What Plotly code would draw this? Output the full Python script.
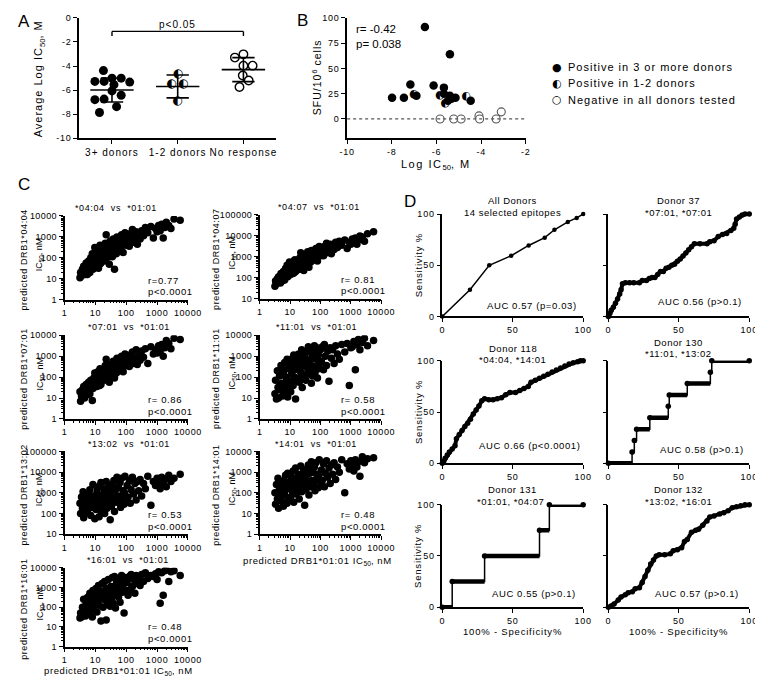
import plotly.graph_objects as go

W, H = 763, 680
FONT = "Liberation Sans, Arial, Helvetica, sans-serif"
SYM = "DejaVu Sans"
HALF = "\u25D0"


def sp(text, px):
    return '<span style="letter-spacing:%spx">%s</span>' % (px, text)


# ---------------- Panel A data ----------------
A_CATEGORIES = ["3+ donors", "1-2 donors", "No response"]
A_3PLUS_Y = [-4.38, -5.28, -5.28, -5.01, -5.01, -5.34, -5.55, -6.07, -6.43, -6.75, -6.80, -7.38, -7.87]
A_3PLUS_JITTER = [-0.13, -0.26, -0.12, 0.0, 0.14, 0.27, 0.03, 0.0, 0.14, -0.12, -0.26, 0.07, -0.19]
A_12_Y = [-4.66, -5.48, -5.48, -6.92]
A_12_JITTER = [0.01, -0.09, 0.09, 0.0]
A_NONE_Y = [-3.03, -3.30, -3.97, -3.97, -4.79, -5.20, -5.75]
A_NONE_JITTER = [0.0, -0.13, 0.0, 0.14, -0.01, 0.08, -0.06]
A_MEAN = [-6.0, -5.7, -4.3]
A_SD = [1.0, 0.95, 1.0]
A_PTEXT = "p<0.05"

# ---------------- Panel B data ----------------
B_POS_X = [-6.52, -5.40, -7.17, -6.13, -7.99, -7.46, -6.90, -5.67, -5.67, -5.40, -5.33, -5.15, -5.49, -4.47]
B_POS_Y = [91, 64, 34, 33, 21, 21, 23, 31, 25, 23, 20, 21, 18, 18]
B_ONE_X = [-7.02, -4.68, -5.85, -5.62]
B_ONE_Y = [24, 22, 23, 16]
B_NEG_X = [-5.84, -5.23, -4.90, -4.10, -4.07, -3.33, -3.10]
B_NEG_Y = [0, 0, 0, 3, 0, 0, 7]
B_STATS = "r= -0.42<br>p= 0.038"
B_LEGEND = ["Positive in 3 or more donors", "Positive in 1-2 donors", "Negative in all donors tested"]

# ---------------- Panel C data (log10 IC50, nM) ----------------
C_X_LOG = [
    0.50, 0.52, 0.55, 0.58, 0.60, 0.62, 0.65, 0.68, 0.70, 0.72,
    0.75, 0.78, 0.80, 0.82, 0.85, 0.88, 0.90, 0.92, 0.95, 0.98,
    1.00, 1.02, 1.05, 1.08, 1.10, 1.12, 1.15, 1.18, 1.20, 1.22,
    1.25, 1.28, 1.30, 1.32, 1.35, 1.38, 1.40, 1.42, 1.45, 1.48,
    1.50, 1.52, 1.55, 1.58, 1.60, 1.62, 1.65, 1.68, 1.70, 1.72,
    1.75, 1.78, 1.80, 1.82, 1.85, 1.88, 1.90, 1.93, 1.96, 2.00,
    2.03, 2.06, 2.10, 2.13, 2.16, 2.20, 2.24, 2.28, 2.32, 2.36,
    2.40, 2.45, 2.50, 2.56, 2.62, 2.70, 2.80, 2.88, 2.95, 3.00,
    3.05, 3.10, 3.15, 3.20, 3.25, 3.30, 3.38, 3.45, 3.55, 3.75,
    0.66, 0.74, 0.86, 0.94, 1.04, 1.14, 1.24, 1.34, 1.44, 1.54,
    1.64, 1.74, 1.84, 1.94, 1.06, 1.16, 1.26, 1.36, 1.46, 1.56]

C_Y_0404 = [
    1.05, 1.30, 1.15, 1.45, 1.25, 1.60, 1.35, 1.20, 1.75, 1.50,
    1.40, 1.85, 1.55, 1.30, 2.00, 1.70, 2.20, 1.45, 1.90, 2.50,
    1.60, 2.10, 1.80, 2.35, 1.50, 2.00, 2.60, 1.75, 2.25, 1.95,
    2.40, 1.85, 2.15, 2.70, 3.10, 2.00, 2.50, 2.25, 1.70, 2.80,
    2.30, 2.55, 2.05, 2.90, 2.40, 1.45, 2.70, 2.20, 3.00, 2.55,
    2.65, 2.35, 2.90, 2.50, 3.10, 2.70, 2.25, 2.95, 3.20, 2.60,
    2.80, 3.05, 2.55, 3.15, 2.90, 3.35, 2.75, 3.00, 3.25, 2.65,
    3.10, 2.90, 3.30, 3.05, 3.45, 3.20, 3.50, 2.95, 3.40, 3.25,
    3.55, 3.30, 3.60, 2.95, 3.45, 3.70, 3.55, 3.40, 3.85, 3.80,
    1.55, 1.20, 1.65, 2.05, 2.30, 1.70, 2.05, 2.35, 2.60, 2.10,
    2.45, 2.80, 2.55, 2.85, 1.95, 2.40, 1.90, 2.55, 2.20, 2.75]
C_Y_0407 = [
    1.60, 1.85, 1.70, 1.95, 1.80, 2.05, 1.90, 1.75, 2.20, 2.00,
    1.95, 2.30, 2.10, 1.90, 2.45, 2.20, 2.60, 2.05, 2.40, 2.75,
    2.15, 2.55, 2.35, 2.70, 2.20, 2.50, 2.85, 2.30, 2.65, 2.45,
    2.75, 2.40, 2.60, 2.95, 3.20, 2.55, 2.85, 2.70, 2.35, 3.05,
    2.80, 3.00, 2.65, 3.25, 2.90, 2.50, 3.10, 2.75, 3.30, 3.00,
    3.05, 2.85, 3.25, 2.95, 3.40, 3.10, 2.80, 3.30, 3.50, 3.05,
    3.20, 3.45, 3.05, 3.50, 3.30, 3.65, 3.20, 3.40, 3.60, 3.15,
    3.50, 3.35, 3.70, 3.45, 3.75, 3.55, 3.80, 3.40, 3.70, 3.60,
    3.85, 3.70, 3.90, 3.60, 3.80, 4.00, 3.95, 3.75, 4.10, 4.20,
    2.05, 1.85, 2.25, 2.50, 2.60, 2.25, 2.50, 2.80, 3.00, 2.65,
    2.90, 3.15, 3.00, 3.25, 2.45, 2.85, 2.40, 2.90, 2.70, 3.15]
C_Y_0701 = [
    1.30, 0.85, 1.10, 1.40, 1.20, 1.55, 1.00, 1.35, 1.65, 1.25,
    1.50, 1.75, 1.35, 1.20, 1.85, 1.60, 0.88, 1.45, 1.95, 2.20,
    1.70, 2.00, 1.55, 2.25, 1.80, 1.95, 2.40, 1.65, 2.15, 1.90,
    2.30, 1.85, 2.05, 2.55, 2.85, 2.00, 2.40, 2.20, 1.75, 2.60,
    2.25, 2.45, 2.05, 2.75, 2.35, 1.95, 2.60, 2.20, 2.90, 2.50,
    2.55, 2.30, 2.80, 2.45, 3.00, 2.65, 2.25, 2.85, 3.10, 2.55,
    2.70, 2.95, 2.50, 3.05, 2.80, 3.20, 2.65, 2.90, 3.30, 2.60,
    3.00, 2.80, 3.25, 2.95, 3.35, 2.65, 3.45, 3.10, 3.30, 3.15,
    3.50, 3.20, 3.55, 3.00, 3.40, 3.75, 3.60, 3.35, 3.85, 3.80,
    1.45, 1.15, 1.70, 1.90, 2.10, 1.60, 2.00, 2.30, 2.50, 2.15,
    2.40, 2.70, 2.50, 2.75, 1.85, 2.35, 1.95, 2.45, 2.25, 2.65]
C_Y_1101 = [
    1.20, 1.85, 0.95, 2.30, 1.50, 1.00, 2.05, 1.40, 2.55, 1.70,
    1.10, 2.20, 1.65, 2.70, 1.35, 1.95, 2.85, 1.05, 2.40, 1.80,
    2.60, 1.30, 2.15, 2.90, 1.60, 3.05, 2.35, 0.95, 2.75, 1.90,
    2.45, 3.10, 1.75, 2.80, 2.25, 3.30, 1.50, 2.65, 3.00, 2.10,
    2.90, 1.85, 3.20, 2.40, 3.45, 2.15, 2.70, 3.35, 1.70, 2.95,
    3.15, 2.50, 3.50, 2.20, 2.85, 3.40, 1.95, 3.05, 2.60, 3.30,
    2.75, 3.45, 2.35, 3.55, 3.00, 2.55, 3.25, 1.80, 3.40, 2.90,
    3.30, 2.65, 3.50, 3.10, 2.85, 3.55, 3.20, 3.60, 1.60, 3.40,
    3.45, 3.70, 2.35, 3.55, 3.80, 3.30, 3.65, 3.85, 3.50, 3.75,
    1.60, 2.45, 2.00, 1.55, 2.55, 2.00, 2.70, 1.95, 2.55, 2.80,
    2.30, 2.05, 3.10, 2.40, 1.75, 2.45, 2.95, 2.20, 2.90, 2.60]
C_Y_1302 = [
    2.50, 2.00, 2.80, 2.25, 3.05, 1.80, 2.60, 2.15, 2.90, 2.35,
    2.05, 2.70, 2.40, 3.15, 1.90, 2.85, 2.30, 3.40, 2.55, 1.75,
    2.75, 2.20, 3.00, 2.45, 3.30, 1.85, 2.65, 3.50, 2.10, 2.90,
    2.40, 3.20, 2.00, 2.80, 3.55, 2.25, 3.05, 2.60, 3.35, 1.70,
    2.95, 2.35, 3.40, 2.70, 3.60, 2.10, 3.15, 2.55, 3.75, 2.85,
    3.25, 2.60, 3.50, 2.30, 3.70, 2.90, 3.10, 2.45, 3.80, 2.75,
    3.35, 2.80, 3.60, 2.50, 3.15, 3.75, 2.95, 3.45, 2.65, 3.55,
    3.10, 3.65, 2.85, 3.45, 3.20, 3.80, 2.40, 3.55, 3.35, 3.70,
    3.50, 3.20, 3.75, 3.40, 3.65, 3.30, 3.85, 3.55, 3.70, 3.90,
    2.20, 2.95, 2.60, 2.35, 2.85, 2.50, 2.75, 3.00, 2.90, 3.10,
    2.65, 3.30, 2.70, 3.00, 3.20, 2.40, 2.95, 2.55, 2.65, 3.20]
C_Y_1401 = [
    2.00, 1.45, 2.40, 1.70, 2.70, 1.25, 2.20, 1.85, 2.55, 1.60,
    2.10, 1.35, 2.60, 1.90, 2.85, 2.30, 1.50, 2.95, 1.75, 2.45,
    2.35, 1.80, 2.75, 2.05, 3.05, 1.55, 2.50, 3.20, 1.95, 2.65,
    2.20, 2.90, 1.70, 2.55, 3.30, 2.05, 2.80, 2.40, 3.10, 1.40,
    2.70, 2.15, 3.15, 2.45, 3.35, 1.90, 2.95, 2.30, 3.50, 2.60,
    3.00, 2.35, 3.25, 2.10, 3.45, 2.70, 2.90, 2.25, 3.60, 2.55,
    3.10, 2.60, 3.40, 2.30, 2.95, 3.55, 2.75, 3.20, 2.45, 3.35,
    2.90, 3.45, 2.65, 3.25, 3.00, 3.60, 2.00, 3.40, 3.15, 3.55,
    3.35, 3.05, 3.60, 3.25, 3.50, 2.80, 3.75, 3.45, 3.65, 3.70,
    1.95, 2.25, 2.15, 2.50, 2.60, 2.35, 2.45, 2.75, 2.70, 2.85,
    2.40, 3.05, 2.60, 2.80, 2.25, 2.10, 2.65, 2.50, 2.85, 2.40]
C_Y_1601 = [
    1.45, 1.70, 1.50, 2.00, 1.60, 2.40, 1.75, 1.55, 2.20, 1.85,
    2.50, 1.65, 2.10, 2.70, 1.80, 2.35, 1.50, 2.85, 2.05, 2.55,
    2.25, 2.95, 1.75, 2.60, 3.10, 2.10, 2.80, 1.30, 2.45, 3.20,
    2.00, 2.70, 3.30, 2.35, 1.35, 2.90, 2.15, 3.40, 2.55, 2.05,
    3.05, 2.45, 3.50, 2.20, 2.80, 3.55, 1.95, 3.20, 2.65, 3.35,
    2.50, 3.45, 2.25, 3.00, 3.60, 2.75, 3.15, 1.70, 3.50, 2.85,
    3.25, 2.60, 3.55, 2.90, 3.65, 3.05, 3.40, 2.70, 3.60, 3.20,
    3.50, 3.10, 3.65, 3.30, 3.75, 3.45, 3.60, 3.55, 3.70, 3.40,
    3.80, 2.20, 3.75, 2.60, 3.85, 3.90, 3.30, 3.80, 3.85, 3.60,
    1.90, 2.05, 2.30, 2.45, 2.65, 2.40, 2.60, 2.95, 2.80, 2.85,
    3.00, 2.75, 3.10, 3.25, 2.35, 2.50, 2.75, 2.90, 2.60, 3.00]

C_ALLELES = ["04:04", "04:07", "07:01", "11:01", "13:02", "14:01", "16:01"]
C_Y = [C_Y_0404, C_Y_0407, C_Y_0701, C_Y_1101, C_Y_1302, C_Y_1401, C_Y_1601]
C_R = ["r=0.77", "r= 0.81", "r= 0.86", "r= 0.58", "r= 0.53", "r= 0.48", "r= 0.48"]
C_P = ["p<0.0001"] * 7
C_TICKS = [1, 10, 100, 1000, 10000, 100000]
C_TICKTEXT = ["1", "10", "100", "1000", "10000", "100000"]

# ---------------- Panel D data (ROC curves) ----------------
D_TITLES = [("All Donors", "14 selected epitopes"), ("Donor 37", "*07:01, *07:01"),
            ("Donor 118", "*04:04, *14:01"), ("Donor 130", "*11:01, *13:02"),
            ("Donor 131", "*01:01, *04:07"), ("Donor 132", "*13:02, *16:01")]
D_AUC = ["AUC 0.57 (p=0.03)", "AUC 0.56 (p>0.1)", "AUC 0.66 (p<0.0001)",
         "AUC 0.58 (p>0.1)", "AUC 0.55 (p>0.1)", "AUC 0.57 (p>0.1)"]
ROC_ALL_X = [0, 19.6, 33.3, 48.9, 61.3, 72.7, 79.6, 89.1, 95.4, 100]
ROC_ALL_Y = [0, 26.1, 50, 59.3, 69.3, 76.9, 84.6, 92.3, 96.2, 100]
ROC_37_X = [0, 1, 2, 3.5, 5, 6.5, 8, 9, 10, 12, 15, 18, 22, 24, 27, 29, 31, 33, 35, 37, 39, 41, 43, 45,
            47, 49, 51, 53, 55, 57, 59, 61, 65, 70, 72, 75, 78, 81, 84, 87, 89, 90, 91, 93, 95, 97, 100]
ROC_37_Y = [0, 3, 6, 9, 13, 17, 22, 26, 32, 33, 33, 33, 33, 35, 35, 37, 38, 38, 41, 44, 44, 47, 48, 50,
            51, 54, 56, 59, 62, 65, 68, 71, 71, 71, 73, 74, 78, 80, 81, 84, 86, 90, 95, 97, 99, 100, 100]
ROC_118_X = [0, 1, 2, 3.5, 5, 7, 9, 10, 12, 14, 16, 18, 20, 22, 24, 26, 28, 30, 33, 36, 39, 42, 45, 48,
             52, 55, 58, 61, 63, 66, 69, 72, 75, 78, 81, 84, 87, 90, 93, 96, 98, 100]
ROC_118_Y = [0, 2, 5, 8, 11, 14, 17, 24, 28, 32, 36, 39, 43, 48, 52, 56, 61, 63, 62, 62, 63, 64, 67, 69,
             69, 71, 73, 75, 79, 81, 83, 85, 87, 89, 91, 93, 95, 97, 98, 99, 100, 100]
ROC_130_X = [0, 16.8, 18.4, 20.0, 29.4, 42.5, 43.2, 56.0, 72.4, 73.4, 100]
ROC_130_Y = [0, 11.1, 22.2, 33.3, 44.4, 55.6, 66.7, 77.8, 88.9, 100, 100]
ROC_131_X = [0, 7, 30, 69, 76, 100]
ROC_131_Y = [0, 25, 50, 75, 100, 100]
ROC_132_X = [0, 2, 4, 7, 9, 12, 14, 17, 19, 22, 24, 26, 28, 30, 32, 34, 36, 40, 44, 46, 49, 52, 54, 56,
             59, 62, 64, 67, 70, 72, 75, 79, 82, 85, 88, 91, 94, 97, 100]
ROC_132_Y = [0, 1, 3, 7, 10, 12, 14, 15, 18, 19, 24, 30, 36, 42, 46, 50, 51, 51, 52, 55, 56, 58, 64, 66,
             73, 75, 76, 80, 84, 88, 89, 91, 92, 94, 97, 98, 99, 100, 100]
D_CURVES = [(ROC_ALL_X, ROC_ALL_Y, "thin"), (ROC_37_X, ROC_37_Y, "thick"), (ROC_118_X, ROC_118_Y, "thick"),
            (ROC_130_X, ROC_130_Y, "step"), (ROC_131_X, ROC_131_Y, "step"), (ROC_132_X, ROC_132_Y, "thick")]

# ---------------- layout geometry (pixels: x0, x1, y0, y1) ----------------
BOXES = {
    1: (65, 268, 5, 127),
    2: (341, 525, 5, 127),
    3: (50, 177, 206, 291),
    4: (251, 376, 205, 290),
    5: (50, 177, 327, 412),
    6: (251, 376, 327, 412),
    7: (50, 177, 445, 529),
    8: (251, 376, 445, 529),
    9: (50, 177, 563, 643),
    10: (439, 584, 204, 308),
    11: (610, 755, 204, 308),
    12: (439, 584, 353, 457),
    13: (610, 755, 353, 457),
    14: (439, 584, 499, 603),
    15: (610, 755, 499, 603),
}
C_AXES = [3, 4, 5, 6, 7, 8, 9]
C_YRANGE = [(0, 4), (1, 5), (0, 4), (0, 4), (1, 5), (0, 4), (0, 4)]
C_TITLE_X = [103, 312, 116, 309, 116, 309, 115]
D_AXES = [10, 11, 12, 13, 14, 15]

fig = go.Figure()


def sfx(n):
    return "" if n == 1 else str(n)


def add(tr, n):
    tr.update(xaxis="x" + sfx(n), yaxis="y" + sfx(n))
    fig.add_trace(tr)


annotations = []


def ann(text, xpx, ypx, size=9, xanchor="center", yanchor="middle", angle=0, family=FONT, align="center"):
    annotations.append(dict(text=text, x=xpx / W, y=1 - ypx / H, xref="paper", yref="paper",
                            showarrow=False, xanchor=xanchor, yanchor=yanchor, textangle=angle,
                            align=align, font=dict(family=family, size=size, color="black")))


# ---- Panel A traces
add(go.Scatter(x=[0 + j for j in A_3PLUS_JITTER], y=A_3PLUS_Y, mode="markers",
               marker=dict(color="black", size=9), cliponaxis=False), 1)
add(go.Scatter(x=[1 + j for j in A_12_JITTER], y=A_12_Y, mode="text", text=[HALF] * len(A_12_Y),
               textposition="middle center", textfont=dict(family=SYM, size=12, color="black"),
               cliponaxis=False), 1)
add(go.Scatter(x=[2 + j for j in A_NONE_JITTER], y=A_NONE_Y, mode="markers",
               marker=dict(color="white", size=8.5, line=dict(color="black", width=1.4)), cliponaxis=False), 1)
lx, ly = [], []
for i, (m, s) in enumerate(zip(A_MEAN, A_SD)):
    lx += [i - 0.33, i + 0.33, None, i, i, None, i - 0.17, i + 0.17, None, i - 0.17, i + 0.17, None]
    ly += [m, m, None, m - s, m + s, None, m + s, m + s, None, m - s, m - s, None]
add(go.Scatter(x=lx, y=ly, mode="lines", line=dict(color="black", width=1.6), cliponaxis=False), 1)

shapes = []
for (x0, y0, x1, y1) in [(0, -1.12, 2, -1.12), (0, -1.12, 0, -1.5), (2, -1.12, 2, -1.5)]:
    shapes.append(dict(type="line", xref="x", yref="y", x0=x0, y0=y0, x1=x1, y1=y1,
                       line=dict(color="black", width=1.4)))
annotations.append(dict(text=sp(A_PTEXT, 1), x=1, y=-0.55, xref="x", yref="y", showarrow=False,
                        font=dict(family=FONT, size=10, color="black")))

# ---- Panel B traces
shapes.append(dict(type="line", xref="x2 domain", yref="y2", x0=0, x1=1, y0=0, y1=0,
                   line=dict(color="#555555", width=1.3, dash="dot")))
add(go.Scatter(x=B_NEG_X, y=B_NEG_Y, mode="markers",
               marker=dict(color="white", size=8, line=dict(color="#555555", width=1.1)), cliponaxis=False), 2)
add(go.Scatter(x=B_POS_X, y=B_POS_Y, mode="markers", marker=dict(color="black", size=8.5), cliponaxis=False), 2)
add(go.Scatter(x=B_ONE_X, y=B_ONE_Y, mode="text", text=[HALF] * len(B_ONE_X), textposition="middle center",
               textfont=dict(family=SYM, size=11, color="black"), cliponaxis=False), 2)
ann(B_STATS, 348, 8, size=11.5, xanchor="left", yanchor="top", align="left")
for k, (lab, sym) in enumerate(zip(B_LEGEND, ["\u25CF", HALF, "\u25CB"])):
    ann(sym, 557, 55 + 16.5 * k, size=11, family=SYM)
    ann(sp(lab, 1), 566, 55 + 16.5 * k, size=11, xanchor="left")

# ---- Panel C traces
for n, allele, ys, r, p, tcx in zip(C_AXES, C_ALLELES, C_Y, C_R, C_P, C_TITLE_X):
    add(go.Scatter(x=[10 ** v for v in C_X_LOG], y=[10 ** v for v in ys], mode="markers",
                   marker=dict(color="black", size=7.5)), n)
    x0, x1, y0, y1 = BOXES[n]
    left = x0 < 200
    ann(sp("*%s  vs  *01:01" % allele, 0.6), tcx, y0 - 8, size=9)
    tx = x0 + 84 if left else x0 + 82
    ann(sp(r, 0.6), tx, y1 - 20, size=9.5, xanchor="left")
    ann(sp(p, 0.6), tx, y1 - 8, size=9.5, xanchor="left")
    ylab_x = 8 if left else 206
    ann(sp("predicted DRB1*%s" % allele, 0.6), ylab_x, (y0 + y1) / 2 + 2, size=9, angle=-90)
    ann("IC<sub>50</sub>, nM", ylab_x + 17, (y0 + y1) / 2 - 4, size=9, angle=-90)
ann(sp("predicted DRB1*01:01 IC", 0.6) + "<sub>50</sub>" + sp(", nM", 0.6), 106, 668, size=9.5)
ann(sp("predicted DRB1*01:01 IC", 0.6) + "<sub>50</sub>" + sp(", nM", 0.6), 310, 556, size=9.5)

# ---- Panel D traces
for n, (xs, ys, style), (t1, t2), auc in zip(D_AXES, D_CURVES, D_TITLES, D_AUC):
    if style == "thin":
        add(go.Scatter(x=xs, y=ys, mode="lines+markers", line=dict(color="black", width=1.5),
                       marker=dict(color="black", size=4.5), cliponaxis=False), n)
    elif style == "thick":
        add(go.Scatter(x=xs, y=ys, mode="lines+markers", line=dict(color="black", width=4),
                       marker=dict(color="black", size=5.5), cliponaxis=False), n)
    else:
        add(go.Scatter(x=xs, y=ys, mode="lines", line=dict(color="black", width=1.5, shape="hv"),
                       cliponaxis=False), n)
        sx, sy = [], []
        for i in range(len(xs) - 1):
            sx += [xs[i], xs[i + 1], None]
            sy += [ys[i], ys[i], None]
        add(go.Scatter(x=sx, y=sy, mode="lines", line=dict(color="black", width=4.5), cliponaxis=False), n)
        add(go.Scatter(x=xs, y=ys, mode="markers", marker=dict(color="black", size=5.5), cliponaxis=False), n)
    x0, x1, y0, y1 = BOXES[n]
    cx = (x0 + x1) / 2
    off = {10: 1, 11: 1, 12: 0, 13: 6, 14: 2, 15: 2}[n]
    ann(sp(t1, 0.5), cx, y0 - 13 - off, size=9.5)
    ann(sp(t2, 0.5), cx - (2 if n == 14 else 0), y0 - 1 - off, size=9.5)
    auc_y = {10: 11, 11: 15, 12: 17, 13: 13, 14: 13, 15: 13}[n]
    auc_x = {10: 97, 11: 96, 12: 99, 13: 97.5, 14: 96, 15: 94}[n]
    annotations.append(dict(text=sp(auc, 0.6), x=auc_x, y=auc_y, xref="x" + sfx(n), yref="y" + sfx(n),
                            showarrow=False, xanchor="right", yanchor="middle",
                            font=dict(family=FONT, size=9.5, color="black")))
    if x0 < 600:
        ann(sp("Sensitivity %", 0.8), 414, (y0 + y1) / 2, size=9.5, angle=-90)
ann(sp("100% - Specificity%", 0.8), 511, 628, size=9.5)
ann(sp("100% - Specificity%", 0.8), 682, 628, size=9.5)

# ---- Axis titles for A and B
ann(sp("Average Log IC", 1) + "<sub>50</sub>" + sp(", M", 1), 24, 67, size=11, angle=-90)
ann(sp("SFU/10", 1) + "<sup>6</sup>" + sp(" cells", 1), 309, 65, size=10.5, angle=-90)
ann(sp("Log IC", 1.5) + "<sub>50</sub>" + sp(", M", 1.5), 432, 154, size=11)

# ---- Panel letters
for letter, x, y in [("A", 8, 9), ("B", 295, 8), ("C", 8, 174), ("D", 406, 191)]:
    ann(letter, x, y, size=17)

# ---- Axes
AX = dict(showline=True, linecolor="black", linewidth=1.5, ticks="outside", ticklen=4, tickwidth=1.4,
          tickcolor="black", showgrid=False, zeroline=False, mirror=False,
          tickfont=dict(family=FONT, size=9, color="black"))
layout = dict(width=W, height=H, margin=dict(l=0, r=0, t=0, b=0), paper_bgcolor="white",
              plot_bgcolor="white", showlegend=False, font=dict(family=FONT, size=9, color="black"))
for n, (x0, x1, y0, y1) in BOXES.items():
    s = sfx(n)
    layout["xaxis" + s] = dict(domain=[x0 / W, x1 / W], anchor="y" + s, **AX)
    layout["yaxis" + s] = dict(domain=[1 - y1 / H, 1 - y0 / H], anchor="x" + s, **AX)

layout["xaxis"].update(range=[-0.5, 2.5], tickvals=[0, 1, 2], ticktext=[sp(c, 1) for c in A_CATEGORIES],
                       tickfont=dict(family=FONT, size=10, color="black"))
layout["yaxis"].update(range=[-10, 0], tickvals=[0, -2, -4, -6, -8, -10],
                       ticktext=[sp(t, 0.8) for t in ["0", "-2", "-4", "-6", "-8", "-10"]])
layout["xaxis2"].update(range=[-10, -2], tickvals=[-10, -8, -6, -4, -2],
                        ticktext=[sp(t, 0.8) for t in ["-10", "-8", "-6", "-4", "-2"]])
layout["yaxis2"].update(range=[-19, 100], tickvals=[0, 25, 50, 75, 100],
                        ticktext=[sp(t, 0.8) for t in ["0", "25", "50", "75", "100"]])
minor = dict(ticks="outside", ticklen=2, tickwidth=1, tickcolor="black", dtick="D1")
for n, (lo, hi) in zip(C_AXES, C_YRANGE):
    s = sfx(n)
    layout["xaxis" + s].update(type="log", range=[0, 4], tickvals=C_TICKS[:5],
                               ticktext=[sp(t, 0.6) for t in C_TICKTEXT[:5]], minor=minor)
    layout["yaxis" + s].update(type="log", range=[lo, hi], tickvals=C_TICKS[lo:hi + 1],
                               ticktext=[sp(t, 0.4) for t in C_TICKTEXT[lo:hi + 1]], minor=minor)
for n in D_AXES:
    s = sfx(n)
    layout["xaxis" + s].update(range=[0, 100], tickvals=[0, 50, 100],
                               ticktext=[sp(t, 0.8) for t in ["0", "50", "100"]])
    layout["yaxis" + s].update(range=[0, 100], tickvals=[0, 50, 100],
                               ticktext=[sp(t, 0.8) for t in ["0", "50", "100"]],
                               showticklabels=BOXES[n][0] < 600)

layout["annotations"] = annotations
layout["shapes"] = shapes
fig.update_layout(**layout)
fig.write_html("out.html")
